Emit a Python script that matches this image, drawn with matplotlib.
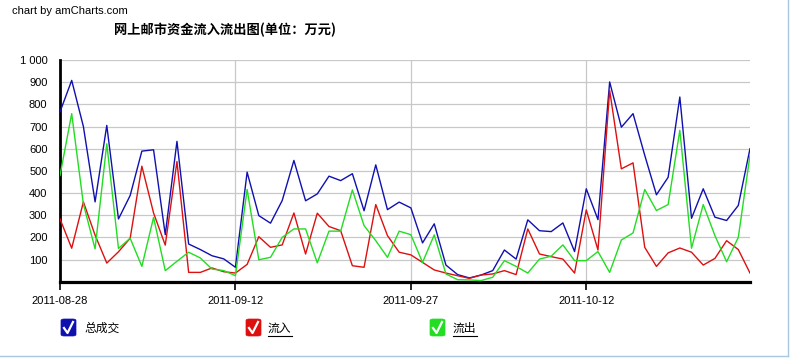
import matplotlib
matplotlib.use("Agg")
import matplotlib.pyplot as plt
import matplotlib.dates as mdates
from matplotlib.patches import FancyBboxPatch
from matplotlib.lines import Line2D
from matplotlib.ticker import FuncFormatter
import numpy as np
import pandas as pd

start_date = "2011-08-28"
n_days = 60
total = [766, 908, 700, 360, 705, 283, 389, 589, 595, 212,
         633, 170, 145, 117, 103, 65, 494, 298, 264, 366,
         547, 365, 396, 476, 456, 487, 320, 527, 325, 359,
         333, 175, 261, 75, 32, 17, 30, 50, 143, 102,
         279, 230, 226, 265, 136, 419, 280, 901, 697, 758,
         570, 392, 471, 833, 286, 419, 291, 276, 344, 600]
inflow = [283, 151, 360, 210, 84, 135, 196, 521, 310, 165,
          542, 42, 42, 62, 45, 39, 78, 203, 155, 166,
          310, 125, 309, 249, 230, 72, 65, 348, 208, 133,
          121, 87, 53, 39, 27, 15, 30, 35, 50, 32,
          238, 125, 113, 102, 39, 324, 143, 863, 509, 536,
          155, 69, 130, 152, 133, 75, 105, 185, 145, 39]
outflow = [479, 758, 350, 148, 622, 150, 196, 69, 290, 50,
           92, 133, 107, 57, 50, 27, 416, 99, 110, 200,
           238, 238, 85, 228, 228, 414, 253, 185, 110, 228,
           212, 87, 211, 35, 9, 8, 5, 20, 95, 69,
           39, 102, 115, 166, 95, 95, 136, 42, 188, 220,
           416, 321, 348, 683, 151, 348, 208, 90, 200, 570]
series_names = ["总成交", "流入", "流出"]
series_colors = ["#1010B0", "#DD1010", "#22DD22"]
x_ticks = ["2011-08-28", "2011-09-12", "2011-09-27", "2011-10-12"]
y_ticks = [100, 200, 300, 400, 500, 600, 700, 800, 900, 1000]
title = "网上邮市资金流入流出图(单位：万元)"
credit = "chart by amCharts.com"

W, H = 809, 361
fig = plt.figure(figsize=(W / 100, H / 100), dpi=100)
fig.patch.set_facecolor("white")

def fx(x):
    return x / W

def fy(y):
    return 1 - y / H

left, right, top, bottom = 60, 750, 60, 281.7
ax = fig.add_axes([fx(left), fy(bottom), fx(right) - fx(left), fy(top) - fy(bottom)])

dates = pd.date_range(start_date, periods=n_days, freq="D")
for vals, col in zip([total, inflow, outflow], series_colors):
    ax.plot(dates, vals, color=col, lw=1.0, zorder=3)

ax.set_xlim(dates[0], dates[-1])
ax.set_ylim(0, 1000)

ax.set_yticks(y_ticks)
ax.yaxis.set_major_formatter(FuncFormatter(lambda v, p: f"{int(v):,}".replace(",", " ")))
ax.set_xticks(pd.to_datetime(x_ticks))
ax.xaxis.set_major_formatter(mdates.DateFormatter("%Y-%m-%d"))

ax.grid(True, color="#C8C8C8", lw=0.9, zorder=0)
for s in ["top", "right"]:
    ax.spines[s].set_visible(False)
ax.spines["left"].set_linewidth(2.0)
ax.spines["bottom"].set_linewidth(2.3)
ax.spines["left"].set_color("black")
ax.spines["bottom"].set_color("black")

ax.tick_params(axis="y", length=0, pad=9, labelsize=8)
ax.tick_params(axis="x", length=6, width=1.2, direction="out", pad=4, labelsize=8)
for lab in ax.get_xticklabels() + ax.get_yticklabels():
    lab.set_fontfamily(["Liberation Sans", "DejaVu Sans"])

cjk = ["Noto Sans CJK SC", "DejaVu Sans"]
fig.text(fx(12), fy(11), credit, fontsize=8, family=["Liberation Sans", "DejaVu Sans"],
         ha="left", va="center")
fig.text(fx(225), fy(30), title, fontsize=9.5, fontweight="bold", family=cjk,
         ha="center", va="center")

# legend with checkbox icons
box_x = [61, 246, 430]
text_x = [84, 268, 453]
underline = [False, True, True]
for bx, tx, name, col, ul in zip(box_x, text_x, series_names, series_colors, underline):
    bw, bh = 15, 17
    by = 319
    p = FancyBboxPatch((fx(bx), fy(by + bh)), fx(bw), bh / H,
                       boxstyle="round,pad=0,rounding_size=0.004",
                       transform=fig.transFigure, facecolor=col, edgecolor=col, lw=0.5)
    fig.patches.append(p)
    fig.lines.append(Line2D([fx(bx + 3), fx(bx + 6.5), fx(bx + 12)],
                            [fy(by + 9), fy(by + 14), fy(by + 3)],
                            transform=fig.transFigure, color="white", lw=1.6))
    t = fig.text(fx(tx), fy(328), name, fontsize=8.5, family=cjk, ha="left", va="center")
    if ul:
        wpx = 13 * len(name)
        fig.lines.append(Line2D([fx(tx), fx(tx + wpx - 2)], [fy(336), fy(336)],
                                transform=fig.transFigure, color="black", lw=0.8))

# page container border
fig.lines.append(Line2D([fx(788), fx(788)], [fy(0), fy(356)], transform=fig.transFigure,
                        color="#A8C8E0", lw=1.0))
fig.lines.append(Line2D([fx(0), fx(788)], [fy(356), fy(356)], transform=fig.transFigure,
                        color="#A8C8E0", lw=1.0))

fig.savefig("out.png", dpi=100, facecolor="white")
